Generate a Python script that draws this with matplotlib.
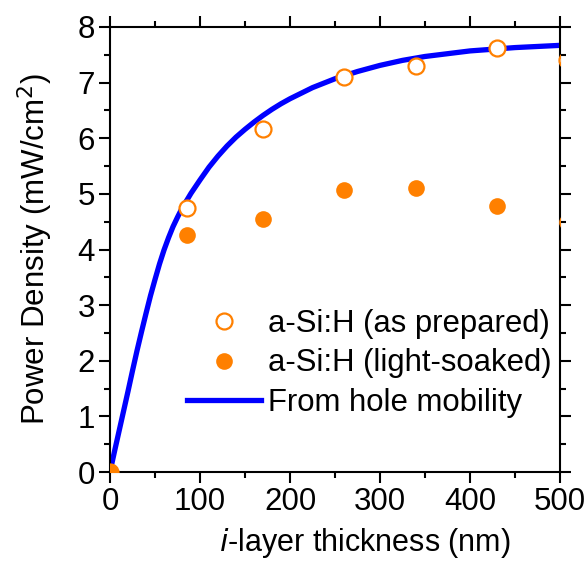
import matplotlib
matplotlib.use("Agg")
import matplotlib.pyplot as plt
from matplotlib.ticker import MultipleLocator

plt.rcParams['font.family'] = ['Liberation Sans', 'DejaVu Sans']

# Data
thick_prep = [0, 85, 170, 260, 340, 430, 508]
power_prep = [0, 4.75, 6.16, 7.10, 7.30, 7.62, 7.40]
thick_soak = [0, 85, 170, 260, 340, 430, 508]
power_soak = [0, 4.26, 4.55, 5.07, 5.10, 4.78, 4.50]
curve_x = [0, 5, 10, 15, 20, 25, 30, 35, 40, 45, 50, 55, 60, 65, 70, 75, 80, 90,
           100, 110, 120, 130, 140, 150, 160, 170, 180, 190, 200, 225, 250, 275,
           300, 325, 350, 375, 400, 450, 500]
curve_y = [0, 0.37, 0.73, 1.09, 1.45, 1.82, 2.18, 2.52, 2.85, 3.17, 3.46, 3.74,
           3.99, 4.21, 4.41, 4.58, 4.74, 5.01, 5.25, 5.48, 5.68, 5.86, 6.02, 6.16,
           6.29, 6.41, 6.52, 6.62, 6.71, 6.91, 7.07, 7.20, 7.31, 7.40, 7.47, 7.52,
           7.57, 7.63, 7.67]

orange = '#FF8000'
blue = '#0000FF'

fig = plt.figure(figsize=(5.85, 5.62), dpi=100)
ax = fig.add_axes([110/585, 90/562, 450/585, 445/562])

ax.plot(curve_x, curve_y, color=blue, lw=3.8, label='From hole mobility', zorder=2,
        solid_joinstyle='round')
ax.plot(thick_prep, power_prep, 'o', ms=11.5, mfc='white', mec=orange, mew=1.6,
        label='a-Si:H (as prepared)', zorder=3)
ax.plot(thick_soak, power_soak, 'o', ms=12, mfc=orange, mec=orange, mew=0,
        label='a-Si:H (light-soaked)', zorder=3)

ax.set_xlim(0, 500)
ax.set_ylim(0, 8)
ax.xaxis.set_major_locator(MultipleLocator(100))
ax.xaxis.set_minor_locator(MultipleLocator(50))
ax.yaxis.set_major_locator(MultipleLocator(1))
ax.yaxis.set_minor_locator(MultipleLocator(0.5))
ax.tick_params(which='both', direction='out', top=True, right=True, width=1.5,
               labelsize=22.5, pad=3)
ax.tick_params(which='major', length=8)
ax.tick_params(which='minor', length=4.5)
for s in ax.spines.values():
    s.set_linewidth(1.5)

ax.set_xlabel(r'$\mathit{i}$-layer thickness (nm)', fontsize=22)
ax.xaxis.set_label_coords(0.567, -0.122)
ax.set_ylabel(r'Power Density (mW/cm$^2$)', fontsize=22.5, labelpad=16)

h, l = ax.get_legend_handles_labels()
order = [1, 2, 0]
ax.legend([h[i] for i in order], [l[i] for i in order], loc='upper left',
          bbox_to_anchor=(77/450, 0.366), frameon=False, fontsize=22.4,
          borderpad=0, handlelength=2.38, handletextpad=0.22, labelspacing=0.3,
          borderaxespad=0)

fig.savefig('out.png', dpi=100)
